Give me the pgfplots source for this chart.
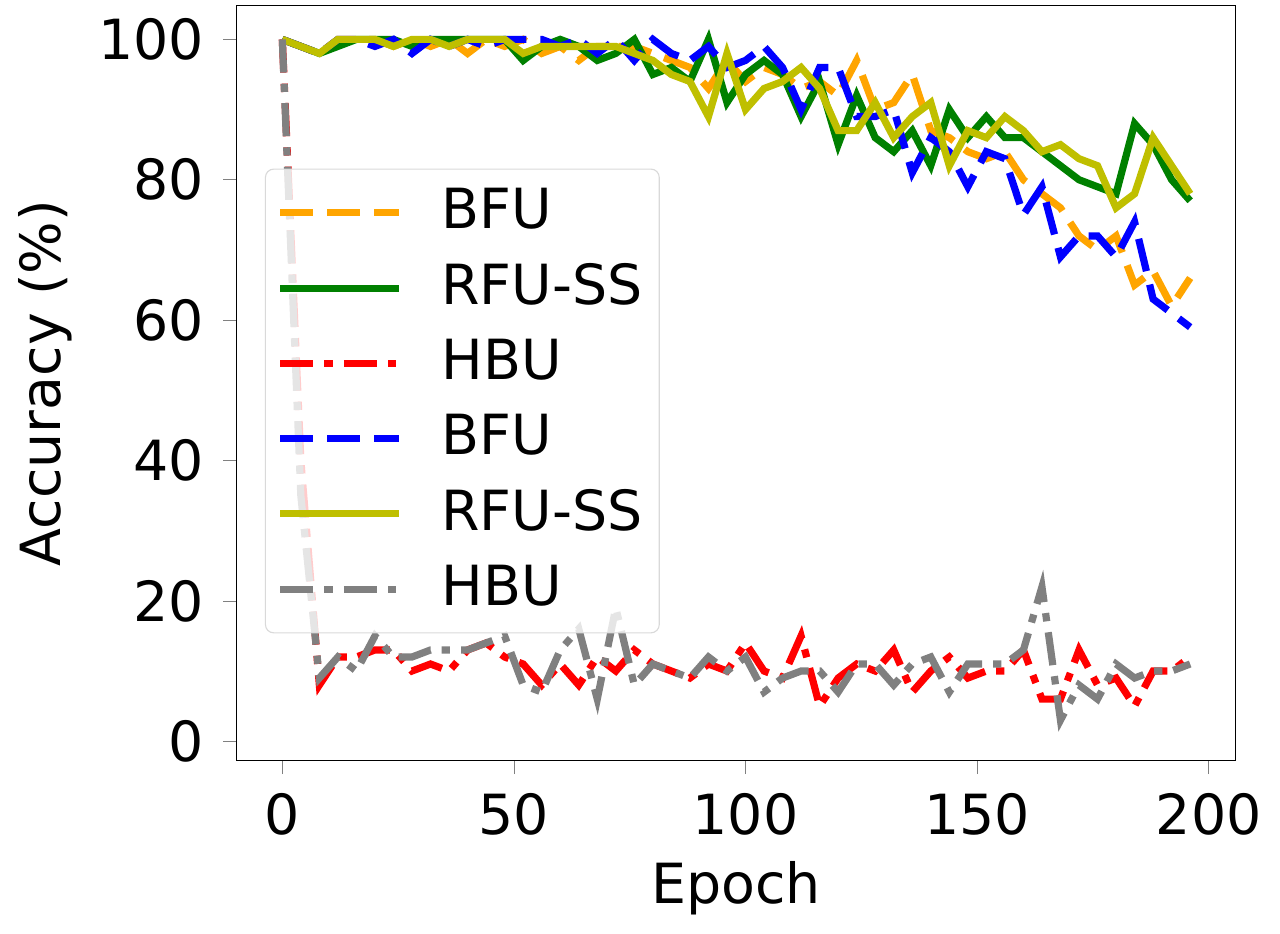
\documentclass[border=0pt]{standalone}
\usepackage{fontspec}
\setmainfont{DejaVu Sans}
\usepackage{pgfplots}
\pgfplotsset{compat=1.18}
\definecolor{mporange}{HTML}{FFA500}
\definecolor{mpy}{HTML}{BFBF00}
\definecolor{mpgreen}{HTML}{008000}
\begin{document}
\fontsize{20}{24}\selectfont
\begin{tikzpicture}
\begin{axis}[
  scale only axis, width=360.7pt, height=272.5pt,
  xmin=-9.8, xmax=205.8, ymin=-2.7, ymax=104.8,
  xtick={0,50,100,150,200}, ytick={0,20,40,60,80,100},
  /pgf/number format/assume math mode=true,
  tick label style={font=\fontsize{20}{24}\selectfont},
  label style={font=\fontsize{20}{24}\selectfont},
  xlabel={Epoch}, ylabel={Accuracy (\%)},
  xlabel style={yshift=4pt}, ylabel style={yshift=-4pt},
  tick align=outside, xtick pos=bottom, ytick pos=left,
  major tick length=5pt,
  every axis plot/.append style={line width=2.6pt},
  legend style={at={(0.028,0.168)}, anchor=south west, draw=black!15, rounded corners=3pt, fill=white, fill opacity=0.8, text opacity=1, draw opacity=1, font=\fontsize{20}{24}\selectfont, row sep=5.5pt, inner xsep=4pt, inner ysep=5pt},
  legend cell align=left,
  legend image code/.code={\draw[#1] (0pt,0pt) -- (43pt,0pt);},
  legend style={/tikz/every even column/.append style={column sep=14pt}},
]
\addplot[mporange, dash pattern=on 12pt off 5pt] coordinates {(0,100)(4,99)(8,98)(12,100)(16,100)(20,100)(24,99)(28,100)(32,99)(36,100)(40,98)(44,100)(48,99)(52,100)(56,98)(60,99)(64,97)(68,99)(72,99)(76,99)(80,98)(84,97)(88,96)(92,93)(96,97)(100,94)(104,96)(108,95)(112,93)(116,94)(120,92)(124,97)(128,90)(132,91)(136,95)(140,87)(144,86)(148,84)(152,83)(156,84)(160,80)(164,78)(168,76)(172,72)(176,70)(180,72)(184,65)(188,67)(192,62)(196,66)};
\addlegendentry{\hspace*{12pt}BFU}
\addplot[mpgreen] coordinates {(0,100)(4,99)(8,98)(12,99)(16,100)(20,100)(24,100)(28,99)(32,100)(36,100)(40,100)(44,100)(48,100)(52,97)(56,99)(60,100)(64,99)(68,97)(72,98)(76,100)(80,95)(84,96)(88,94)(92,100)(96,91)(100,95)(104,97)(108,95)(112,89)(116,94)(120,85)(124,92)(128,86)(132,84)(136,87)(140,82)(144,90)(148,86)(152,89)(156,86)(160,86)(164,84)(168,82)(172,80)(176,79)(180,78)(184,88)(188,85)(192,80)(196,77)};
\addlegendentry{\hspace*{12pt}RFU-SS}
\addplot[red, dash pattern=on 12pt off 4pt on 3pt off 4pt] coordinates {(0,100)(4,40)(8,8)(12,12)(16,12)(20,13)(24,13)(28,10)(32,11)(36,10)(40,13)(44,14)(48,12)(52,11)(56,8)(60,11)(64,8)(68,12)(72,10)(76,13)(80,11)(84,10)(88,9)(92,11)(96,10)(100,14)(104,10)(108,9)(112,15)(116,5)(120,9)(124,11)(128,10)(132,13)(136,7)(140,10)(144,12)(148,9)(152,10)(156,10)(160,13)(164,6)(168,6)(172,13)(176,8)(180,9)(184,5)(188,10)(192,10)(196,12)};
\addlegendentry{\hspace*{12pt}HBU}
\addplot[blue, dash pattern=on 12pt off 5pt] coordinates {(0,100)(4,99)(8,98)(12,100)(16,100)(20,99)(24,100)(28,98)(32,100)(36,99)(40,100)(44,99)(48,100)(52,100)(56,100)(60,99)(64,100)(68,98)(72,100)(76,97)(80,100)(84,98)(88,97)(92,99)(96,96)(100,97)(104,99)(108,96)(112,90)(116,96)(120,96)(124,89)(128,89)(132,90)(136,81)(140,86)(144,84)(148,79)(152,84)(156,83)(160,75)(164,79)(168,69)(172,72)(176,72)(180,69)(184,74)(188,63)(192,61)(196,59)};
\addlegendentry{\hspace*{12pt}BFU}
\addplot[mpy] coordinates {(0,100)(4,99)(8,98)(12,100)(16,100)(20,100)(24,99)(28,100)(32,100)(36,99)(40,100)(44,100)(48,100)(52,98)(56,99)(60,99)(64,99)(68,99)(72,99)(76,98)(80,97)(84,95)(88,94)(92,89)(96,98)(100,90)(104,93)(108,94)(112,96)(116,93)(120,87)(124,87)(128,91)(132,86)(136,89)(140,91)(144,82)(148,87)(152,86)(156,89)(160,87)(164,84)(168,85)(172,83)(176,82)(180,76)(184,78)(188,86)(192,82)(196,78)};
\addlegendentry{\hspace*{12pt}RFU-SS}
\addplot[gray, dash pattern=on 12pt off 4pt on 3pt off 4pt] coordinates {(0,100)(4,35)(8,9)(12,12)(16,10)(20,15)(24,12)(28,12)(32,13)(36,13)(40,13)(44,14)(48,15)(52,8)(56,7)(60,13)(64,16)(68,6)(72,19)(76,8)(80,11)(84,10)(88,9)(92,12)(96,10)(100,12)(104,7)(108,9)(112,10)(116,10)(120,7)(124,11)(128,11)(132,8)(136,11)(140,12)(144,7)(148,11)(152,11)(156,11)(160,13)(164,22)(168,3)(172,8)(176,6)(180,11)(184,9)(188,10)(192,10)(196,11)};
\addlegendentry{\hspace*{12pt}HBU}
\end{axis}
\end{tikzpicture}
\end{document}
